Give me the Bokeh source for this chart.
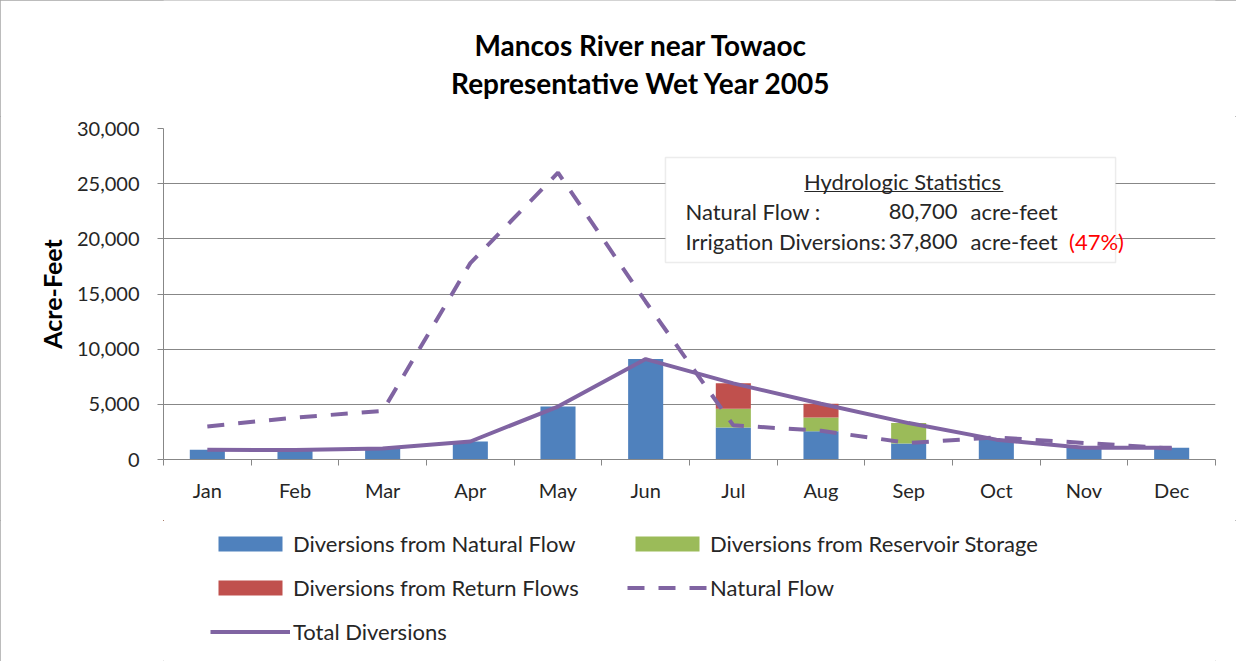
from bokeh.plotting import figure
from bokeh.layouts import column
from bokeh.models import (Range1d, FixedTicker, NumeralTickFormatter, Legend, LegendItem,
                          Label, BoxAnnotation, ColumnDataSource)
from bokeh.embed import file_html
from bokeh.resources import INLINE

# ---------------- data ----------------
months = ["Jan", "Feb", "Mar", "Apr", "May", "Jun", "Jul", "Aug", "Sep", "Oct", "Nov", "Dec"]
div_natural = [880, 850, 1000, 1630, 4800, 9100, 2900, 2550, 1450, 1800, 1060, 1060]
div_reservoir = [0, 0, 0, 0, 0, 0, 1700, 1250, 1850, 0, 0, 0]
div_return = [0, 0, 0, 0, 0, 0, 2300, 1250, 0, 0, 0, 0]
natural_flow = [3000, 3800, 4400, 17800, 26000, 14300, 3100, 2600, 1500, 2000, 1500, 1000]
y_ticks = [0, 5000, 10000, 15000, 20000, 25000, 30000]

title_lines = ["Mancos River near Towaoc", "Representative Wet Year 2005"]
stats_title = "Hydrologic Statistics"
stats_labels = ["Natural Flow :", "Irrigation Diversions:"]
stats_values = ["80,700", "37,800"]
stats_unit = "acre-feet"
stats_pct = "(47%)"
legend_labels = ["Diversions from Natural Flow", "Diversions from Reservoir Storage",
                 "Diversions from Return Flows", "Natural Flow", "Total Diversions"]

# ---------------- derived ----------------
xc = [i + 0.5 for i in range(len(months))]
total_div = [a + b + c for a, b, c in zip(div_natural, div_reservoir, div_return)]
src = ColumnDataSource(dict(
    x=xc, nat=div_natural, res=div_reservoir, ret=div_return,
    flow=natural_flow, total=total_div,
))

FONT = "Lato"
BLUE = "#4F81BD"
GREEN = "#9BBB59"
RED = "#C0504D"
PURPLE = "#8064A2"
GRID = "#878787"
TXT = "#262626"
DASH = "17 14"
W = 1236
LB, RB = 163, 21


def bare(fig):
    fig.outline_line_color = None
    fig.xgrid.grid_line_color = None
    fig.ygrid.grid_line_color = None
    fig.border_fill_color = "white"
    fig.background_fill_color = "white"


# ---------------- title strip ----------------
p0 = figure(width=W, height=116, x_range=Range1d(0, 12), y_range=Range1d(0, 116),
            output_backend="svg", toolbar_location=None, title=None,
            x_axis_location=None, y_axis_location=None,
            min_border_left=LB, min_border_right=RB, min_border_top=0, min_border_bottom=0)
bare(p0)
for t, yy in zip(title_lines, [72, 34]):
    p0.add_layout(Label(x=5.45, y=yy, text=t, text_align="center", text_baseline="middle",
                        text_font=FONT, text_font_style="bold", text_font_size="28px",
                        text_color="black"))

# ---------------- main chart ----------------
p = figure(width=W, height=404, x_range=Range1d(0, 12), y_range=Range1d(0, 30000),
           output_backend="svg", toolbar_location=None, title=None,
           min_border_left=LB, min_border_right=RB, min_border_top=12, min_border_bottom=61)
p.outline_line_color = None
p.background_fill_color = "white"
p.border_fill_color = "white"

r_nat, r_res, r_ret = p.vbar_stack(["nat", "res", "ret"], x="x", width=0.4, source=src,
                                   color=[BLUE, GREEN, RED], line_color=None)
r_flow = p.line("x", "flow", source=src, line_color=PURPLE, line_width=4, line_dash=DASH)
r_total = p.line("x", "total", source=src, line_color=PURPLE, line_width=4)

p.xgrid.grid_line_color = None
p.ygrid.grid_line_color = GRID
p.ygrid.grid_line_width = 1
p.yaxis.ticker = FixedTicker(ticks=y_ticks)
p.yaxis.formatter = NumeralTickFormatter(format="0,0")
p.yaxis.axis_line_color = GRID
p.yaxis.major_tick_line_color = GRID
p.yaxis.major_tick_out = 6
p.yaxis.major_tick_in = 0
p.yaxis.minor_tick_line_color = None
p.yaxis.major_label_standoff = 18
p.yaxis.axis_label = "Acre-Feet"
p.yaxis.axis_label_text_font = FONT
p.yaxis.axis_label_text_font_style = "bold"
p.yaxis.axis_label_text_font_size = "25px"
p.yaxis.axis_label_text_color = "black"
p.yaxis.axis_label_standoff = 7

p.xaxis.ticker = FixedTicker(ticks=xc, minor_ticks=list(range(len(months) + 1)))
p.xaxis.major_label_overrides = {x: m for x, m in zip(xc, months)}
p.xaxis.axis_line_color = GRID
p.xaxis.major_tick_line_color = None
p.xaxis.major_tick_out = 0
p.xaxis.major_tick_in = 0
p.xaxis.minor_tick_line_color = GRID
p.xaxis.minor_tick_out = 6
p.xaxis.minor_tick_in = 0
p.xaxis.major_label_standoff = 12

for ax in (p.xaxis, p.yaxis):
    ax.major_label_text_font = FONT
    ax.major_label_text_font_size = "20px"
    ax.major_label_text_color = TXT

# statistics box
SFS = "22px"
p.add_layout(BoxAnnotation(left=5.726, right=10.86, top=27370, bottom=17855,
                           fill_color="white", fill_alpha=1, line_color="#bfbfbf",
                           line_width=1.5))
p.add_layout(Label(x=8.43, y=25200, text=stats_title, text_align="center",
                   text_baseline="middle", text_font=FONT, text_font_size=SFS,
                   text_color=TXT))
p.add_layout(BoxAnnotation(left=7.31, right=9.58, top=24330, bottom=24240,
                           fill_color=TXT, fill_alpha=1, line_color=None))
for i, (lab, val) in enumerate(zip(stats_labels, stats_values)):
    yy = 22480 - i * 2720
    p.add_layout(Label(x=5.954, y=yy, text=lab, text_align="left", text_baseline="middle",
                       text_font=FONT, text_font_size=SFS, text_color=TXT))
    p.add_layout(Label(x=9.057, y=yy, text=val, text_align="right", text_baseline="middle",
                       text_font=FONT, text_font_size=SFS, text_color=TXT))
    p.add_layout(Label(x=9.205, y=yy, text=stats_unit, text_align="left", text_baseline="middle",
                       text_font=FONT, text_font_size=SFS, text_color=TXT))
p.add_layout(Label(x=10.33, y=22480 - 2720, text=stats_pct, text_align="left",
                   text_baseline="middle", text_font=FONT, text_font_size=SFS,
                   text_color="#FF0000"))

# ---------------- legend strip ----------------
# same data and styles as the chart; the ranges keep these copies far out of view,
# so only their legend glyphs are seen
p2 = figure(width=W, height=141, x_range=Range1d(5000, 5001), y_range=Range1d(-500000, -499999),
            output_backend="svg", toolbar_location=None, title=None,
            x_axis_location=None, y_axis_location=None,
            min_border_left=LB, min_border_right=RB, min_border_top=0, min_border_bottom=0)
bare(p2)
l_nat, l_res, l_ret = p2.vbar_stack(["nat", "res", "ret"], x="x", width=0.4, source=src,
                                    color=[BLUE, GREEN, RED], line_color=None)
l_flow = p2.line("x", "flow", source=src, line_color=PURPLE, line_width=4, line_dash=DASH)
l_total = p2.line("x", "total", source=src, line_color=PURPLE, line_width=4)
lr = dict(zip(legend_labels, [l_nat, l_res, l_ret, l_flow, l_total]))

# column-major order: col 1 = rows 1-3, col 2 = rows 1-2
order = [legend_labels[0], legend_labels[2], legend_labels[4], legend_labels[1], legend_labels[3]]
legend = Legend(items=[LegendItem(label=k, renderers=[lr[k]]) for k in order], ncols=2)
legend.location = (47, 14)
legend.border_line_color = None
legend.background_fill_alpha = 0
legend.label_text_font = FONT
legend.label_text_font_size = "22px"
legend.label_text_color = TXT
legend.glyph_width = 80
legend.glyph_height = 19
legend.label_standoff = 3
legend.label_width = 322
legend.label_height = 32
legend.spacing = 12
legend.padding = 0
legend.margin = 0
p2.add_layout(legend, "center")

layout = column(p0, p, p2, spacing=0,
                styles={"outline": "1px solid #a6a6a6", "outline-offset": "-1px"})
open("out.html", "w").write(file_html(layout, INLINE))
